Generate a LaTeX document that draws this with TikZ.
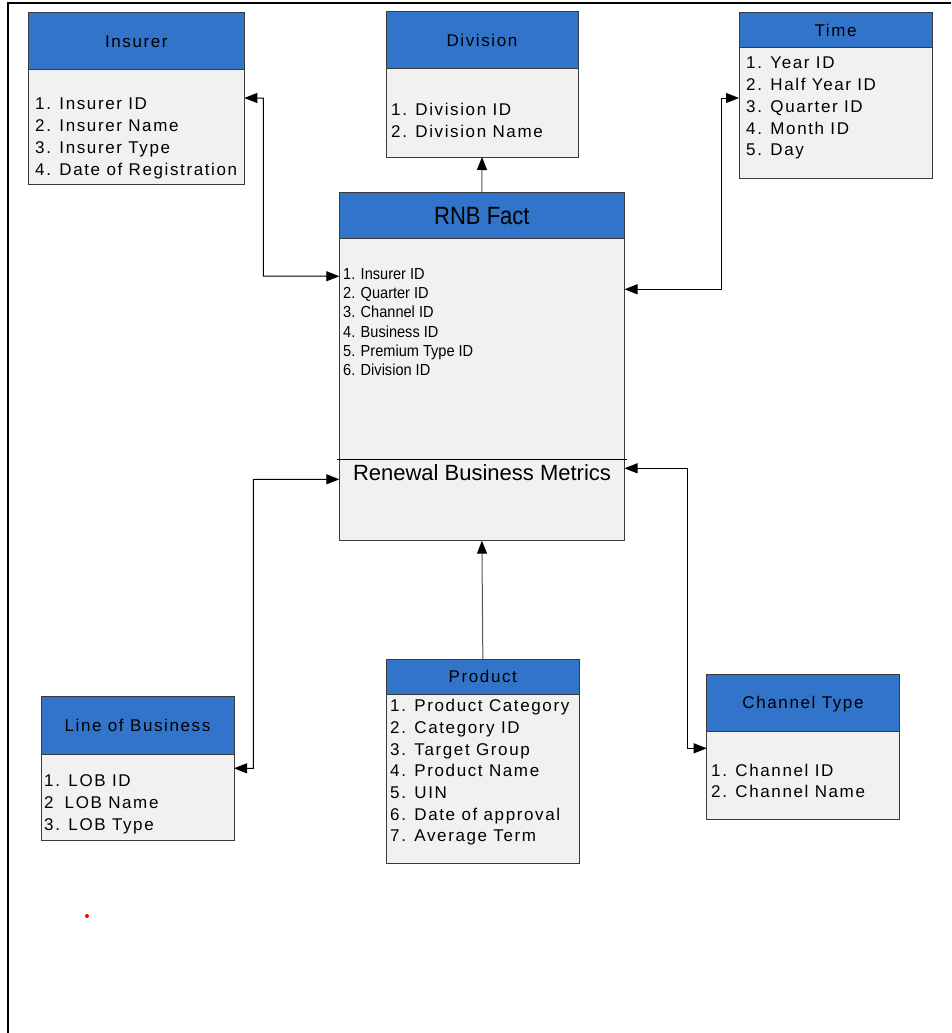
\documentclass[tikz,border=0pt]{standalone}
\usepackage{fontspec}
\setmainfont{Liberation Sans}
\newfontfamily\boxfont[LetterSpace=9.5]{Liberation Sans}
\newfontfamily\facttitlefont[FakeStretch=0.88]{Liberation Sans}
\newfontfamily\factitemfont[FakeStretch=0.91]{Liberation Sans}
\usetikzlibrary{arrows.meta}

\definecolor{hdrblue}{RGB}{49,116,202}
\definecolor{bodyfill}{RGB}{241,241,241}
\definecolor{boxline}{RGB}{58,58,58}
\definecolor{linkgray}{RGB}{85,85,85}

\tikzset{
  hdr/.style={draw=boxline, fill=hdrblue, line width=1pt, inner sep=0pt, outer sep=0pt,
    anchor=north west, font=\boxfont\fontsize{17}{20}\selectfont, text height=12.2pt, text depth=0pt},
  body/.style={draw=boxline, fill=bodyfill, line width=1pt, inner sep=0pt, outer sep=0pt,
    anchor=north west},
  item/.style={anchor=base west, inner sep=0pt, font=\boxfont\fontsize{17}{20}\selectfont},
  factitem/.style={anchor=base west, inner sep=0pt, font=\factitemfont\fontsize{16}{19}\selectfont},
  tipshape/.tip={Triangle[length=13pt,width=10pt,color=black]},
  link/.style={line width=1pt, -tipshape},
  duallink/.style={line width=1pt, tipshape-tipshape},
}

\begin{document}
\begin{tikzpicture}[x=1pt, y=-1pt]
\useasboundingbox (0,0) rectangle (951,1033);

% page frame (top and left rules)
\draw[line width=2pt] (7.5,1033) -- (7.5,3) -- (951,3);

% ---------- Insurer ----------
\node[hdr, minimum width=216pt, minimum height=57.7pt] (ins-h) at (28.3,12.3) {Insurer};
\node[body, minimum width=216pt, minimum height=114pt] (ins-b) at (ins-h.south west) {};
\node[item] (ins-1) at (35,109) {1. Insurer ID};
\node[item] (ins-2) at (35,131) {2. Insurer Name};
\node[item] (ins-3) at (35,153) {3. Insurer Type};
\node[item] (ins-4) at (35,175) {4. Date of Registration};

% ---------- Division ----------
\node[hdr, minimum width=192pt, minimum height=57pt] (div-h) at (386,12) {Division};
\node[body, minimum width=192pt, minimum height=88pt] (div-b) at (div-h.south west) {};
\node[item] (div-1) at (391,115) {1. Division ID};
\node[item] (div-2) at (391,137) {2. Division Name};

% ---------- Time ----------
\node[hdr, minimum width=193pt, minimum height=34.5pt] (tim-h) at (739,13) {Time};
\node[body, minimum width=193pt, minimum height=130.8pt] (tim-b) at (tim-h.south west) {};
\node[item] (tim-1) at (746,69) {1. Year ID};
\node[item] (tim-2) at (746,90.7) {2. Half Year ID};
\node[item] (tim-3) at (746,112.4) {3. Quarter ID};
\node[item] (tim-4) at (746,134.1) {4. Month ID};
\node[item] (tim-5) at (746,155.8) {5. Day};

% ---------- RNB Fact ----------
\node[hdr, minimum width=285.2pt, minimum height=46pt,
      font=\facttitlefont\fontsize{25}{28}\selectfont, text height=17.9pt] (fact-h) at (339.3,192.3) {RNB Fact};
\node[body, minimum width=285.2pt, minimum height=302.4pt] (fact-b) at (fact-h.south west) {};
\node[factitem] (fact-1) at (343,279.3) {1. Insurer ID};
\node[factitem] (fact-2) at (343,298.6) {2. Quarter ID};
\node[factitem] (fact-3) at (343,317.9) {3. Channel ID};
\node[factitem] (fact-4) at (343,337.2) {4. Business ID};
\node[factitem] (fact-5) at (343,356.5) {5. Premium Type ID};
\node[factitem] (fact-6) at (343,375.8) {6. Division ID};
\draw[line width=1pt] ([xshift=-2.6pt,yshift=81.4pt]fact-b.south west)
                   -- ([xshift=2.8pt,yshift=81.4pt]fact-b.south east);
\node[anchor=base, inner sep=0pt, font=\fontsize{22}{25}\selectfont] (fact-m)
  at (482,480) {Renewal Business Metrics};

% ---------- Line of Business ----------
\node[hdr, minimum width=193pt, minimum height=57.3pt] (lob-h) at (41,696.7) {Line of Business};
\node[body, minimum width=193pt, minimum height=86pt] (lob-b) at (lob-h.south west) {};
\node[item] (lob-1) at (44,786.7) {1. LOB ID};
\node[item] (lob-2) at (44,808.7) {2\phantom{.} LOB Name};
\node[item] (lob-3) at (44,830.7) {3. LOB Type};

% ---------- Product ----------
\node[hdr, minimum width=192.3pt, minimum height=35pt] (prd-h) at (386.7,659.3) {Product};
\node[body, minimum width=192.3pt, minimum height=169pt] (prd-b) at (prd-h.south west) {};
\node[item] (prd-1) at (390,711.7) {1. Product Category};
\node[item] (prd-2) at (390,733.4) {2. Category ID};
\node[item] (prd-3) at (390,755.1) {3. Target Group};
\node[item] (prd-4) at (390,776.8) {4. Product Name};
\node[item] (prd-5) at (390,798.5) {5. UIN};
\node[item] (prd-6) at (390,820.2) {6. Date of approval};
\node[item] (prd-7) at (390,841.9) {7. Average Term};

% ---------- Channel Type ----------
\node[hdr, minimum width=192.6pt, minimum height=57pt] (chn-h) at (706.7,674) {Channel Type};
\node[body, minimum width=192.6pt, minimum height=88.3pt] (chn-b) at (chn-h.south west) {};
\node[item] (chn-1) at (711,776) {1. Channel ID};
\node[item] (chn-2) at (711,797.7) {2. Channel Name};

% ---------- connectors ----------
\coordinate (bend-ins) at (263.3,276);
\draw[duallink] ([yshift=-28pt]ins-b.north east) -| (bend-ins)
   -- ([yshift=-38pt]fact-b.north west);

\coordinate (bend-tim) at (721,98);
\draw[duallink] ([yshift=-51pt]fact-b.north east) -| (bend-tim)
   -- ([yshift=-50.5pt]tim-b.north west);

\coordinate (bend-lob) at (253.3,768.3);
\draw[duallink] ([yshift=-14.3pt]lob-b.north east) -- (bend-lob)
   |- ([yshift=61.4pt]fact-b.south west);

\coordinate (bend-chn) at (687,748.3);
\draw[duallink] ([yshift=72.4pt]fact-b.south east) -| (bend-chn)
   -- ([yshift=-17.3pt]chn-b.north west);

\draw[link, draw=linkgray] (fact-h.north) -- (div-b.south);
\draw[link, draw=linkgray] (prd-h.north) -- (fact-b.south);

% stray mark
\fill[red] (87,916) circle (2pt);
\end{tikzpicture}
\end{document}
